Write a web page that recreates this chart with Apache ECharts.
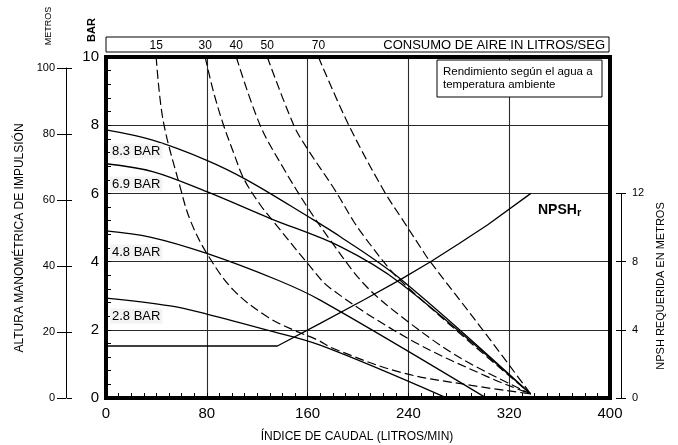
<!DOCTYPE html>
<html><head><meta charset="utf-8">
<script src="https://cdn.jsdelivr.net/npm/echarts@6/dist/echarts.min.js"></script>
<style>html,body{margin:0;padding:0;background:#fff}#c{width:678px;height:445px}</style>
</head><body><div id="c"></div>
<script>
const FONT = '"Liberation Sans", Arial, Helvetica, sans-serif';

// axis tick values
const flowTicks = [0, 80, 160, 240, 320, 400];
const barTicks = [0, 2, 4, 6, 8, 10];
const meterTicks = [0, 20, 40, 60, 80, 100];
const npshTicks = [0, 4, 8, 12];

// labels
const pressureLabels = ['8.3 BAR', '6.9 BAR', '4.8 BAR', '2.8 BAR'];
const airLabels = ['15', '30', '40', '50', '70'];

// pump curves: [flow l/min, head BAR]
const curve83 = [[0,7.86],[37,7.56],[80,6.97],[112,6.39],[160,5.33],[186,4.73],[234,3.48],[337,0.12]];
const curve69 = [[0,6.87],[37,6.64],[80,6.05],[130,5.27],[186,4.44],[234,3.36],[337,0.12]];
const curve48 = [[0,4.9],[35,4.72],[80,4.24],[136,3.46],[170,2.87],[300,0.04]];
const curve28 = [[0,2.93],[51,2.70],[80,2.46],[128,1.99],[170,1.55],[268,0.04]];

// air consumption curves (l/s)
const air15 = [[39.8,10],[45.3,8.15],[58.8,6.19],[66.8,5.22],[80,4.24],[101,3.17],[128,2.38],[149,1.99],[168,1.70],[180.5,1.45],[234,0.75],[290,0.37],[337,0.12]];
const air30 = [[78.7,10],[85.3,8.98],[93.3,8.0],[101.2,7.2],[109.5,6.42],[122.5,5.66],[133,5.17],[160,3.95],[178,3.22],[242,1.70],[303,0.62],[337,0.12]];
const air40 = [[103.4,10],[122.3,8.0],[141,6.73],[159.6,5.61],[178,4.63],[204.6,3.35],[234,2.4],[280,1.2],[337,0.12]];
const air50 = [[128,10],[149,8.0],[159.6,7.32],[180.8,6.15],[196.7,5.17],[204.6,4.75],[225.8,3.75],[239,3.26],[290,1.6],[337,0.12]];
const air70 = [[168.6,10],[192.7,8.0],[220.5,6.08],[236.4,5.17],[251,4.34],[256.3,4.05],[300,1.95],[337,0.12]];

// NPSH required: [flow l/min, metres]
const npsh = [[0,3.05],[136,3.05],[170,4.38],[204.5,5.75],[234,6.96],[257.6,7.99],[280,9.05],[302.7,10.15],[337.2,12.0]];

const pumpCurves = [curve83, curve69, curve48, curve28];
const airCurves = [air15, air30, air40, air50, air70];

const chart = echarts.init(document.getElementById('c'), null, {renderer: 'canvas'});

const black = '#000';
const gridLine = {show: true, lineStyle: {color: '#2a2a2a', width: 1.1}};

const series = [];
pumpCurves.forEach((d, i) => {
  series.push({
    name: pressureLabels[i], type: 'line', xAxisIndex: 0, yAxisIndex: 0,
    data: d, showSymbol: false, smooth: 0.35, silent: true,
    lineStyle: {color: black, width: 1.3}, z: 3
  });
});
airCurves.forEach((d, i) => {
  series.push({
    name: airLabels[i], type: 'line', xAxisIndex: 0, yAxisIndex: 0,
    data: d, showSymbol: false, smooth: 0.35, silent: true,
    lineStyle: {color: black, width: 1.2, type: [9, 4]}, z: 3,
    markPoint: {
      symbol: 'circle', symbolSize: 0, silent: true,
      data: [{coord: d[0], label: {show: true, formatter: airLabels[i], position: 'inside', offset: [0, -11], color: black, fontSize: 12, fontFamily: FONT}}]
    }
  });
});
series.push({
  name: 'NPSHr', type: 'line', xAxisIndex: 0, yAxisIndex: 1,
  data: npsh, showSymbol: false, smooth: false, silent: true,
  lineStyle: {color: black, width: 1.3}, z: 3
});

const option = {
  animation: false,
  backgroundColor: '#fff',
  grid: [
    {left: 106, right: 68, top: 57, bottom: 47, show: true, borderColor: black, borderWidth: 4, backgroundColor: 'transparent', z: 5},
    {left: 66, width: 1, top: 68, bottom: 47},
    {left: 621, width: 1, top: 193.4, bottom: 47}
  ],
  xAxis: [
    {gridIndex: 0, type: 'value', min: flowTicks[0], max: flowTicks[flowTicks.length-1], interval: 80,
     axisLine: {show: false},
     axisTick: {show: true, inside: true, length: 5, lineStyle: {color: black, width: 1}},
     minorTick: {show: true, splitNumber: 8, length: 5, lineStyle: {color: black, width: 1}},
     axisLabel: {color: black, fontSize: 15, fontFamily: FONT, margin: 8},
     splitLine: gridLine},
    {gridIndex: 1, type: 'value', show: false, min: 0, max: 1},
    {gridIndex: 2, type: 'value', show: false, min: 0, max: 1}
  ],
  yAxis: [
    {gridIndex: 0, type: 'value', min: barTicks[0], max: barTicks[barTicks.length-1], interval: 2,
     axisLine: {show: false},
     axisTick: {show: true, inside: true, length: 5, lineStyle: {color: black, width: 1}},
     minorTick: {show: true, splitNumber: 5, length: 5, lineStyle: {color: black, width: 1}},
     axisLabel: {color: black, fontSize: 15, fontFamily: FONT, margin: 7},
     splitLine: gridLine},
    {gridIndex: 0, type: 'value', min: 0, max: 20, show: false},
    {gridIndex: 1, type: 'value', position: 'left', min: meterTicks[0], max: meterTicks[meterTicks.length-1], interval: 20,
     axisLine: {show: true, lineStyle: {color: black, width: 1}},
     axisTick: {show: true, length: 9, lineStyle: {color: black, width: 1}},
     axisLabel: {color: black, fontSize: 11, fontFamily: FONT, margin: 11},
     splitLine: {show: false}},
    {gridIndex: 1, type: 'value', position: 'right', min: meterTicks[0], max: meterTicks[meterTicks.length-1], interval: 20,
     axisLine: {show: false},
     axisTick: {show: true, length: 5, lineStyle: {color: black, width: 1}},
     axisLabel: {show: false}, splitLine: {show: false}},
    {gridIndex: 2, type: 'value', position: 'right', min: npshTicks[0], max: npshTicks[npshTicks.length-1], interval: 4,
     axisLine: {show: true, lineStyle: {color: black, width: 1}},
     axisTick: {show: true, length: 5, lineStyle: {color: black, width: 1}},
     axisLabel: {color: black, fontSize: 11, fontFamily: FONT, margin: 10},
     splitLine: {show: false}},
    {gridIndex: 2, type: 'value', position: 'left', min: npshTicks[0], max: npshTicks[npshTicks.length-1], interval: 4,
     axisLine: {show: false},
     axisTick: {show: true, length: 5, lineStyle: {color: black, width: 1}},
     axisLabel: {show: false}, splitLine: {show: false}}
  ],
  series: series,
  graphic: [
    {type: 'rect', shape: {x: 106, y: 37, width: 503, height: 15}, style: {fill: '#fff', stroke: black, lineWidth: 1}, z: 1, silent: true},
    {type: 'text', x: 605, y: 45, style: {text: 'CONSUMO DE AIRE IN LITROS/SEG', fill: black, font: '13px ' + FONT, textAlign: 'right', textVerticalAlign: 'middle'}, z: 10, silent: true},
    {type: 'rect', shape: {x: 437, y: 60, width: 165, height: 37}, style: {fill: '#fff', stroke: black, lineWidth: 1}, z: 20, silent: true},
    {type: 'text', x: 443, y: 72, style: {text: 'Rendimiento según el agua a', fill: black, font: '11.5px ' + FONT, textVerticalAlign: 'middle'}, z: 21, silent: true},
    {type: 'text', x: 443, y: 85, style: {text: 'temperatura ambiente', fill: black, font: '11.5px ' + FONT, textVerticalAlign: 'middle'}, z: 21, silent: true},
    {type: 'text', x: 110, y: 151, style: {text: pressureLabels[0], fill: black, font: '13px ' + FONT, textVerticalAlign: 'middle', backgroundColor: '#f3f3f3', padding: [1, 2]}, z: 20, silent: true},
    {type: 'text', x: 110, y: 184, style: {text: pressureLabels[1], fill: black, font: '13px ' + FONT, textVerticalAlign: 'middle', backgroundColor: '#f3f3f3', padding: [1, 2]}, z: 20, silent: true},
    {type: 'text', x: 110, y: 252, style: {text: pressureLabels[2], fill: black, font: '13px ' + FONT, textVerticalAlign: 'middle', backgroundColor: '#f3f3f3', padding: [1, 2]}, z: 20, silent: true},
    {type: 'text', x: 110, y: 316, style: {text: pressureLabels[3], fill: black, font: '13px ' + FONT, textVerticalAlign: 'middle', backgroundColor: '#f3f3f3', padding: [1, 2]}, z: 20, silent: true},
    {type: 'text', x: 538, y: 210, style: {text: '{a|NPSH}{b|r}', fill: black, textVerticalAlign: 'middle',
      rich: {a: {font: 'bold 14px ' + FONT, fill: black}, b: {font: 'bold 11px ' + FONT, fill: black, padding: [6, 0, 0, 0]}}}, z: 20, silent: true},
    {type: 'text', x: 49, y: 26, rotation: Math.PI / 2, style: {text: 'METROS', fill: black, font: '9px ' + FONT, textAlign: 'center', textVerticalAlign: 'middle'}, silent: true},
    {type: 'text', x: 92, y: 30, rotation: Math.PI / 2, style: {text: 'BAR', fill: black, font: 'bold 11px ' + FONT, textAlign: 'center', textVerticalAlign: 'middle'}, silent: true},
    {type: 'text', x: 20, y: 238, rotation: Math.PI / 2, style: {text: 'ALTURA MANOMÉTRICA DE IMPULSIÓN', fill: black, font: '12px ' + FONT, textAlign: 'center', textVerticalAlign: 'middle'}, silent: true},
    {type: 'text', x: 661, y: 286, rotation: Math.PI / 2, style: {text: 'NPSH REQUERIDA EN METROS', fill: black, font: '11px ' + FONT, textAlign: 'center', textVerticalAlign: 'middle'}, silent: true},
    {type: 'text', x: 357, y: 437, style: {text: 'ÍNDICE DE CAUDAL (LITROS/MIN)', fill: black, font: '12px ' + FONT, textAlign: 'center', textVerticalAlign: 'middle'}, silent: true}
  ]
};
chart.setOption(option);
</script></body></html>
